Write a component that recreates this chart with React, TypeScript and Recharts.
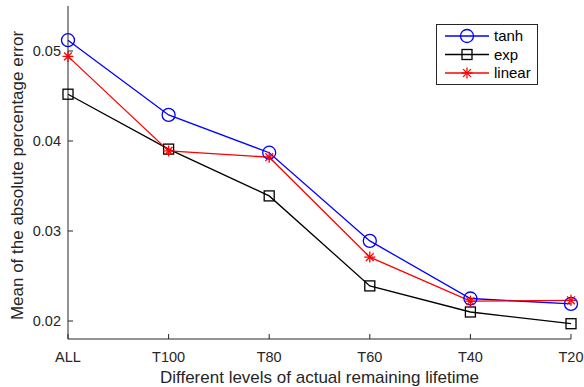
import { LineChart, Line, XAxis, YAxis } from "recharts";

const levels = ["ALL", "T100", "T80", "T60", "T40", "T20"];
const tanhErr = [0.0512, 0.0429, 0.0387, 0.0289, 0.0225, 0.0219];
const expErr = [0.0452, 0.0391, 0.0339, 0.0239, 0.021, 0.0197];
const linearErr = [0.0494, 0.0389, 0.0382, 0.0271, 0.0222, 0.0223];
const yTicks = [0.02, 0.03, 0.04, 0.05];

const data = levels.map((level, i) => ({
  level,
  tanh: tanhErr[i],
  exp: expErr[i],
  linear: linearErr[i],
}));

const AXIS = "#262626";
const FONT = "'Liberation Sans', Arial, Helvetica, sans-serif";

const Circle = (props: any) => {
  const { cx, cy, key } = props;
  return <circle key={key} cx={cx} cy={cy} r={6.5} fill="none" stroke="#0000ff" strokeWidth={1.3} />;
};

const Square = (props: any) => {
  const { cx, cy, key } = props;
  return <rect key={key} x={cx - 5} y={cy - 5} width={10} height={10} fill="none" stroke="#000" strokeWidth={1.3} />;
};

const Star = (props: any) => {
  const { cx, cy, key } = props;
  const s = 5.5;
  const d = s * 0.707;
  return (
    <g key={key} stroke="#ff0000" strokeWidth={1.3}>
      <line x1={cx - s} y1={cy} x2={cx + s} y2={cy} />
      <line x1={cx} y1={cy - s} x2={cx} y2={cy + s} />
      <line x1={cx - d} y1={cy - d} x2={cx + d} y2={cy + d} />
      <line x1={cx - d} y1={cy + d} x2={cx + d} y2={cy - d} />
    </g>
  );
};

const legendItems = [
  { name: "tanh", color: "#0000ff", Marker: Circle },
  { name: "exp", color: "#000000", Marker: Square },
  { name: "linear", color: "#ff0000", Marker: Star },
];

function LegendBox() {
  return (
    <div
      style={{
        position: "absolute",
        left: 436,
        top: 24,
        border: `1px solid ${AXIS}`,
        background: "#fff",
        width: 100,
        height: 59,
      }}
    >
      <svg width={100} height={59} style={{ display: "block" }}>
        {legendItems.map((it, i) => {
          const y = 11 + i * 18.5;
          return (
            <g key={it.name}>
              <line x1={8} y1={y} x2={52} y2={y} stroke={it.color} strokeWidth={1.3} />
              <it.Marker cx={30} cy={y} />
              <text x={57} y={y + 5} fontSize={15} fill="#000" fontFamily={FONT}>
                {it.name}
              </text>
            </g>
          );
        })}
      </svg>
    </div>
  );
}

// rotated y-axis title, placed relative to the axis box
const YTitle = (props: any) => {
  const { viewBox } = props;
  const x = viewBox.x + 23;
  const y = viewBox.y + viewBox.height / 2 + 3;
  return (
    <text
      x={x}
      y={y}
      transform={`rotate(-90, ${x}, ${y})`}
      textAnchor="middle"
      fill="#262626"
      fontSize={17}
      fontFamily={FONT}
    >
      Mean of the absolute percentage error
    </text>
  );
};

export default function App() {
  return (
    <div style={{ position: "absolute", left: 0, top: 0, background: "#fff", width: 584, height: 387 }}>
      <LineChart
        width={584}
        height={387}
        data={data}
        margin={{ top: 6, right: 13, left: 0, bottom: 0 }}
        style={{ fontFamily: FONT }}
      >
        <XAxis
          dataKey="level"
          height={48}
          interval={0}
          axisLine={{ stroke: AXIS }}
          tickLine={{ stroke: AXIS }}
          tickSize={-5}
          tickMargin={18}
          tick={{ fill: "#262626", fontSize: 14.5 }}
          label={{
            value: "Different levels of actual remaining lifetime",
            position: "insideBottom",
            offset: 4,
            fill: "#262626",
            style: { fontSize: 17 },
          }}
        />
        <XAxis
          xAxisId="top"
          dataKey="level"
          orientation="top"
          height={0}
          interval={0}
          axisLine={{ stroke: AXIS }}
          tickLine={{ stroke: AXIS }}
          tickSize={-5}
          tick={false}
        />
        <YAxis
          width={68}
          type="number"
          domain={[0.018, 0.055]}
          ticks={yTicks}
          allowDataOverflow
          axisLine={{ stroke: AXIS }}
          tickLine={{ stroke: AXIS }}
          tickSize={-5}
          tickMargin={12}
          tick={{ fill: "#262626", fontSize: 14.5 }}
          tickFormatter={(v: number) => v.toFixed(2)}
          label={{ content: YTitle }}
        />
        <YAxis
          yAxisId="right"
          orientation="right"
          width={0}
          type="number"
          domain={[0.018, 0.055]}
          ticks={yTicks}
          allowDataOverflow
          axisLine={{ stroke: AXIS }}
          tickLine={{ stroke: AXIS }}
          tickSize={-5}
          tick={false}
        />
        {/* invisible series so the top/right frame axes get drawn */}
        <Line
          xAxisId="top"
          yAxisId="right"
          dataKey="tanh"
          stroke="none"
          dot={false}
          activeDot={false}
          legendType="none"
          isAnimationActive={false}
        />
        <Line
          dataKey="tanh"
          stroke="#0000ff"
          strokeWidth={1.3}
          dot={Circle}
          activeDot={false}
          isAnimationActive={false}
        />
        <Line
          dataKey="exp"
          stroke="#000000"
          strokeWidth={1.3}
          dot={Square}
          activeDot={false}
          isAnimationActive={false}
        />
        <Line
          dataKey="linear"
          stroke="#ff0000"
          strokeWidth={1.3}
          dot={Star}
          activeDot={false}
          isAnimationActive={false}
        />
      </LineChart>
      <LegendBox />
    </div>
  );
}
